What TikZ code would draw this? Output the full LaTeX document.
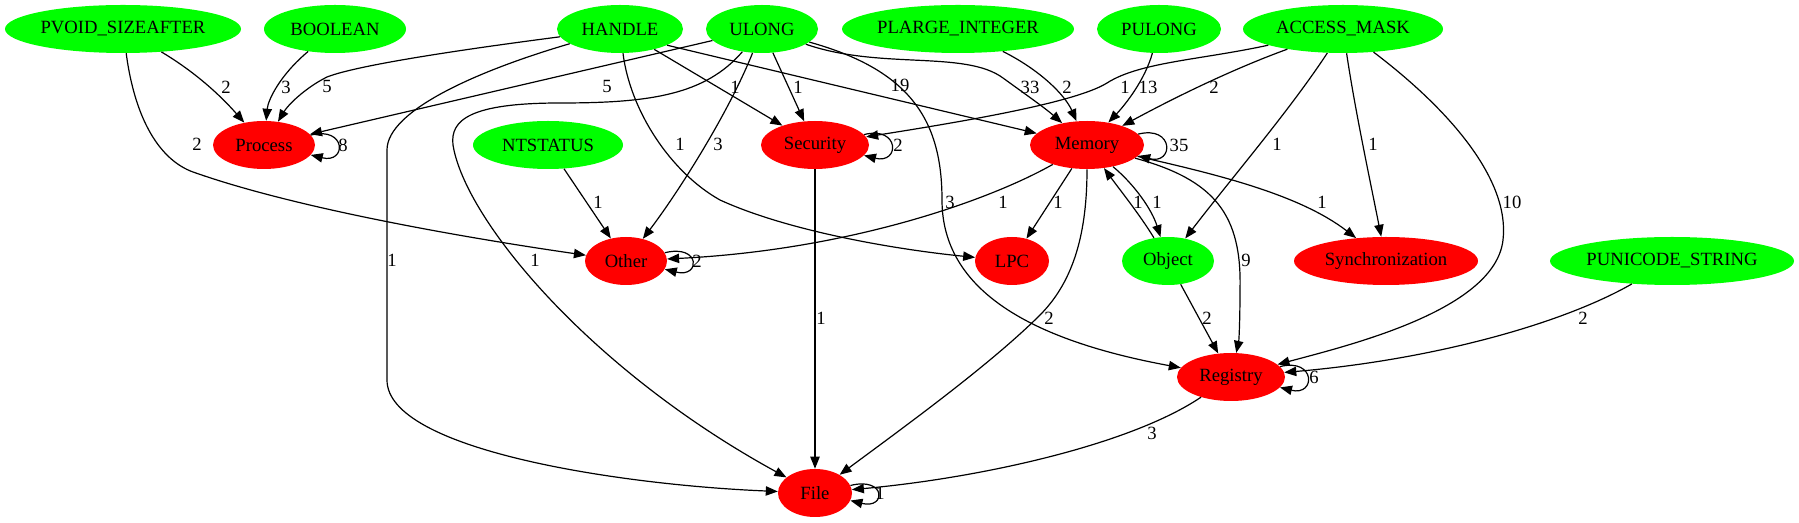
\documentclass[tikz,border=0pt]{standalone}
\usepackage{fontspec}
\setmainfont{Liberation Serif}
\usetikzlibrary{shapes.geometric,arrows.meta}
\definecolor{typegreen}{RGB}{0,255,0}
\definecolor{catred}{RGB}{255,0,0}

\begin{document}
\begin{tikzpicture}[
    x=0.75pt, y=-0.75pt,
    font=\fontsize{14}{16}\selectfont,
    typenode/.style={ellipse, fill=typegreen, inner sep=0pt, minimum height=36pt},
    catnode/.style={ellipse, fill=catred, inner sep=0pt, minimum height=36pt},
    dep/.style={-{Triangle[length=9pt,width=7pt]}, line width=0.9pt},
    num/.style={inner sep=1pt}
  ]
  \useasboundingbox (0,0) rectangle (1799,523);

  % Argument types - top row
  \node[typenode, minimum width=177pt] (pvoid) at (123,29) {PVOID\_SIZEAFTER};
  \node[typenode, minimum width=106.5pt] (boolean) at (335,29) {BOOLEAN};
  \node[typenode, minimum width=94.5pt] (handle) at (620,29) {HANDLE};
  \node[typenode, minimum width=84pt] (ulong) at (762,29) {ULONG};
  \node[typenode, minimum width=174pt] (plarge) at (958,29) {PLARGE\_INTEGER};
  \node[typenode, minimum width=93pt] (pulong) at (1159,29) {PULONG};
  \node[typenode, minimum width=150pt] (access) at (1343,29) {ACCESS\_MASK};

  % Row 2
  \node[catnode, minimum width=76.5pt] (process) at (264,145) {Process};
  \node[typenode, minimum width=112.5pt] (ntstatus) at (548,145) {NTSTATUS};
  \node[catnode, minimum width=81pt] (security) at (815,145) {Security};
  \node[catnode, minimum width=85.5pt] (memory) at (1087,145) {Memory};

  % Row 3
  \node[catnode, minimum width=61.5pt] (other) at (626,261) {Other};
  \node[catnode, minimum width=55.5pt] (lpc) at (1012,261) {LPC};
  \node[typenode, minimum width=69pt] (object) at (1168,261) {Object};
  \node[catnode, minimum width=138pt] (sync) at (1386,261) {Synchronization};
  \node[typenode, minimum width=183pt] (punicode) at (1672,261) {PUNICODE\_STRING};

  % Rows 4 and 5
  \node[catnode, minimum width=81pt] (registry) at (1231,377) {Registry};
  \node[catnode, minimum width=55.5pt] (file) at (815,493) {File};

  % Edges from the top row
  \draw[dep] (pvoid) .. controls (195,72) and (220,95) .. (process) node[num] at (226,87) {2};
  \draw[dep] (pvoid) .. controls (135,120) and (160,160) .. (193,172) .. controls (300,210) and (480,240) .. (other) node[num] at (197,144) {2};
  \draw[dep] (boolean) .. controls (280,75) and (268,100) .. (process) node[num] at (286,87) {3};
  \draw[dep] (handle) .. controls (420,55) and (350,68) .. (327,77) .. controls (305,88) and (288,105) .. (process) node[num] at (327,86) {5};
  \draw[dep] (handle) .. controls (480,70) and (387,110) .. (387,150) -- (387,380) .. controls (387,450) and (620,485) .. (file) node[num] at (392,260) {1};
  \draw[dep] (handle) -- (security) node[num] at (735,87) {1};
  \draw[dep] (handle) .. controls (630,110) and (670,172) .. (720,200) .. controls (790,232) and (900,250) .. (lpc) node[num] at (680,144) {1};
  \draw[dep] (handle.-19) -- (memory.167) node[num] at (900,85) {19};
  \draw[dep] (ulong) -- (process) node[num] at (607,86) {5};
  \draw[dep] (ulong) .. controls (705,95) and (650,103) .. (560,103) .. controls (470,103) and (450,120) .. (453,145) .. controls (465,220) and (590,370) .. (file) node[num] at (535,260) {1};
  \draw[dep] (ulong) .. controls (730,110) and (680,190) .. (other) node[num] at (718,144) {3};
  \draw[dep] (ulong) -- (security) node[num] at (798,87) {1};
  \draw[dep] (ulong) .. controls (910,70) and (942,120) .. (942,200) .. controls (942,290) and (1030,340) .. (registry) node[num] at (950,202) {3};
  \draw[dep] (ulong) .. controls (880,70) and (965,50) .. (1003,78) .. controls (1025,94) and (1045,108) .. (memory) node[num] at (1030,87) {33};
  \draw[dep] (plarge) .. controls (1040,70) and (1065,95) .. (memory) node[num] at (1067,87) {2};
  \draw[dep] (pulong) .. controls (1145,80) and (1125,105) .. (memory) node[num] at (1148,87) {13};
  \draw[dep] (access) .. controls (1200,60) and (1140,62) .. (1107,83) .. controls (1075,103) and (960,122) .. (security) node[num] at (1125,87) {1};
  \draw[dep] (access) .. controls (1230,70) and (1170,100) .. (memory) node[num] at (1214,87) {2};
  \draw[dep] (access) .. controls (1290,110) and (1230,180) .. (object) node[num] at (1277,144) {1};
  \draw[dep] (access) .. controls (1355,110) and (1370,180) .. (sync) node[num] at (1373,144) {1};
  \draw[dep] (access) .. controls (1450,110) and (1510,180) .. (1503,240) .. controls (1495,310) and (1350,345) .. (registry) node[num] at (1512,202) {10};

  % Edges between the groups
  \draw[dep] (security) -- (file) node[num] at (821,318) {1};
  \draw[dep] (memory) .. controls (990,200) and (850,250) .. (other) node[num] at (1003,202) {1};
  \draw[dep] (memory) -- (lpc) node[num] at (1058,202) {1};
  \draw[dep] (memory) .. controls (1087,230) and (1075,280) .. (1040,315) .. controls (990,365) and (900,430) .. (file) node[num] at (1049,318) {2};
  \draw[dep] (memory) .. controls (1135,185) and (1152,210) .. (object) node[num] at (1157,202) {1};
  \draw[dep] (object) .. controls (1140,215) and (1120,190) .. (memory) node[num] at (1138,202) {1};
  \draw[dep] (memory) .. controls (1215,180) and (1242,215) .. (1240,290) .. controls (1240,320) and (1239,340) .. (registry) node[num] at (1246,260) {9};
  \draw[dep] (memory) .. controls (1220,175) and (1300,195) .. (sync) node[num] at (1322,202) {1};
  \draw[dep] (ntstatus) -- (other) node[num] at (598,202) {1};
  \draw[dep] (object) -- (registry) node[num] at (1207,318) {2};
  \draw[dep] (punicode) .. controls (1560,325) and (1430,360) .. (registry) node[num] at (1583,318) {2};
  \draw[dep] (registry) .. controls (1130,445) and (980,478) .. (file) node[num] at (1152,433) {3};

  % Self loops
  \draw[dep] (process.12) .. controls +(36,-9) and +(36,9) .. (process.-12) node[num] at (343,145) {8};
  \draw[dep] (security.12) .. controls +(36,-9) and +(36,9) .. (security.-12) node[num] at (898,145) {2};
  \draw[dep] (memory.12) .. controls +(36,-9) and +(36,9) .. (memory.-12) node[num] at (1179,145) {35};
  \draw[dep] (other.12) .. controls +(36,-9) and +(36,9) .. (other.-12) node[num] at (697,261) {2};
  \draw[dep] (registry.12) .. controls +(36,-9) and +(36,9) .. (registry.-12) node[num] at (1314,377) {6};
  \draw[dep] (file.12) .. controls +(36,-9) and +(36,9) .. (file.-12) node[num] at (880,493) {1};
\end{tikzpicture}
\end{document}
